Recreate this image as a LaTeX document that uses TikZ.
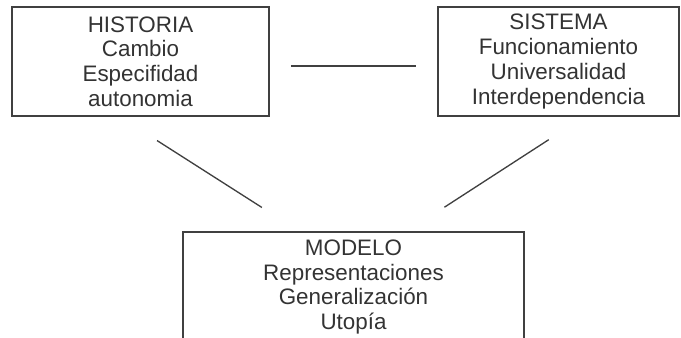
\documentclass[tikz,border=0pt]{standalone}
\usepackage{fontspec}
\setmainfont{Liberation Sans}
\begin{document}
\begin{tikzpicture}[x=0.75pt, y=-0.75pt,
  caja/.style={draw=black!75, line width=1.3pt, rectangle, inner sep=0pt,
    align=center, text=black!80, font=\fontsize{16.8pt}{18.6pt}\selectfont},
  enlace/.style={draw=black!75, line width=1pt}]

\useasboundingbox (0,0) rectangle (681,338);

\node[caja, minimum width=192.75pt, minimum height=81.75pt] (historia) at (140.5, 61.5)
  {HISTORIA\\Cambio\\Especifidad\\autonomia};
\node[caja, minimum width=180.75pt, minimum height=81.75pt] (sistema) at (558.5, 61.5)
  {SISTEMA\\Funcionamiento\\Universalidad\\Interdependencia};
\node[caja, minimum width=255.75pt, minimum height=82.5pt] (modelo) at (353.5, 287)
  {MODELO\\Representaciones\\Generalización\\Utopía};

\draw[enlace, shorten <=15.75pt, shorten >=15.75pt]
  ([yshift=-3.4pt]historia.east) -- ([yshift=-3.4pt]sistema.west);
\draw[enlace, shorten <=33pt, shorten >=33pt]
  ([xshift=-15.4pt]historia.south) -- ([xshift=-40.9pt]modelo.north);
\draw[enlace, shorten <=31.5pt, shorten >=33pt]
  ([xshift=19.1pt]sistema.south) -- ([xshift=40.5pt]modelo.north);

\end{tikzpicture}
\end{document}
